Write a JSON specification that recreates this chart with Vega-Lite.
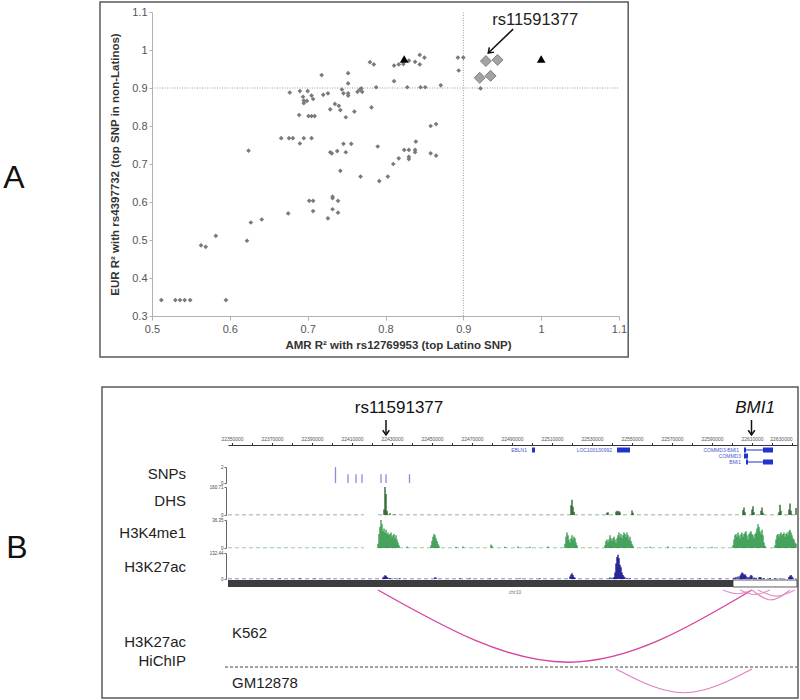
{
"$schema":"https://vega.github.io/schema/vega-lite/v6.json",
"width":800,"height":700,"padding":0,
"autosize":{"type":"fit","contains":"padding"},
"background":"white",
"config":{"view":{"stroke":null},"font":"Liberation Sans"},
"datasets":{
"pts":[{"a":0.512,"e":0.342},{"a":0.530,"e":0.342},{"a":0.536,"e":0.342},{"a":0.542,"e":0.342},{"a":0.549,"e":0.342},{"a":0.595,"e":0.342},{"a":0.563,"e":0.486},{"a":0.569,"e":0.482},{"a":0.582,"e":0.511},{"a":0.622,"e":0.498},{"a":0.627,"e":0.546},{"a":0.641,"e":0.554},{"a":0.675,"e":0.570},{"a":0.702,"e":0.603},{"a":0.707,"e":0.603},{"a":0.707,"e":0.576},{"a":0.732,"e":0.614},{"a":0.732,"e":0.610},{"a":0.739,"e":0.603},{"a":0.732,"e":0.581},{"a":0.739,"e":0.572},{"a":0.726,"e":0.557},{"a":0.624,"e":0.735},{"a":0.666,"e":0.768},{"a":0.676,"e":0.768},{"a":0.681,"e":0.768},{"a":0.690,"e":0.754},{"a":0.695,"e":0.768},{"a":0.705,"e":0.768},{"a":0.729,"e":0.731},{"a":0.731,"e":0.728},{"a":0.738,"e":0.734},{"a":0.746,"e":0.753},{"a":0.756,"e":0.753},{"a":0.749,"e":0.731},{"a":0.742,"e":0.682},{"a":0.768,"e":0.667},{"a":0.790,"e":0.746},{"a":0.792,"e":0.655},{"a":0.803,"e":0.667},{"a":0.810,"e":0.700},{"a":0.817,"e":0.715},{"a":0.824,"e":0.737},{"a":0.830,"e":0.737},{"a":0.830,"e":0.719},{"a":0.830,"e":0.713},{"a":0.838,"e":0.737},{"a":0.838,"e":0.731},{"a":0.839,"e":0.759},{"a":0.858,"e":0.728},{"a":0.865,"e":0.722},{"a":0.858,"e":0.800},{"a":0.865,"e":0.805},
{"a":0.677,"e":0.888},{"a":0.689,"e":0.829},{"a":0.690,"e":0.892},{"a":0.694,"e":0.877},{"a":0.695,"e":0.867},{"a":0.695,"e":0.860},{"a":0.699,"e":0.866},{"a":0.700,"e":0.892},{"a":0.701,"e":0.826},{"a":0.705,"e":0.826},{"a":0.709,"e":0.826},{"a":0.705,"e":0.880},{"a":0.707,"e":0.871},{"a":0.718,"e":0.934},{"a":0.720,"e":0.882},{"a":0.726,"e":0.886},{"a":0.729,"e":0.844},{"a":0.735,"e":0.858},{"a":0.740,"e":0.853},{"a":0.742,"e":0.842},{"a":0.744,"e":0.896},{"a":0.746,"e":0.886},{"a":0.749,"e":0.823},{"a":0.752,"e":0.939},{"a":0.752,"e":0.912},{"a":0.752,"e":0.886},{"a":0.752,"e":0.880},{"a":0.760,"e":0.838},{"a":0.764,"e":0.890},{"a":0.767,"e":0.896},{"a":0.769,"e":0.899},{"a":0.770,"e":0.890},{"a":0.780,"e":0.968},{"a":0.782,"e":0.849},{"a":0.785,"e":0.962},{"a":0.788,"e":0.902},{"a":0.811,"e":0.918},{"a":0.811,"e":0.959},{"a":0.817,"e":0.962},{"a":0.823,"e":0.963},{"a":0.830,"e":0.972},{"a":0.828,"e":0.902},{"a":0.838,"e":0.969},{"a":0.844,"e":0.987},{"a":0.850,"e":0.980},{"a":0.844,"e":0.962},{"a":0.845,"e":0.902},{"a":0.851,"e":0.902},{"a":0.871,"e":0.907},{"a":0.893,"e":0.980},{"a":0.900,"e":0.980},{"a":0.894,"e":0.946},{"a":0.922,"e":0.899},{"a":0.929,"e":0.966}],
"lead":[{"a":0.929,"e":0.971},{"a":0.944,"e":0.974},{"a":0.921,"e":0.927},{"a":0.935,"e":0.932}],
"tri":[{"a":0.824,"e":0.976},{"a":1.0,"e":0.976}],
"snp":[{"p":22401750,"v":2},{"p":22408000,"v":1.1},{"p":22412000,"v":1.1},{"p":22415000,"v":1.1},{"p":22424500,"v":1.1},{"p":22427000,"v":1.1},{"p":22438750,"v":1.1}],
"dhs":[{"p":22426000,"v":32},{"p":22426500,"v":160.7},{"p":22427000,"v":120.5},{"p":22427500,"v":24},{"p":22429000,"v":9.6},{"p":22431500,"v":4.8},{"p":22519500,"v":56},{"p":22520000,"v":88},{"p":22520500,"v":48},{"p":22521000,"v":19},{"p":22537500,"v":13},{"p":22538000,"v":16},{"p":22542000,"v":19},{"p":22542500,"v":24},{"p":22543000,"v":16},{"p":22543500,"v":22.5},{"p":22544000,"v":16},{"p":22550000,"v":26},{"p":22550500,"v":13},{"p":22605500,"v":29},{"p":22606000,"v":43},{"p":22606500,"v":16},{"p":22610000,"v":32},{"p":22610500,"v":50},{"p":22611000,"v":16},{"p":22614500,"v":24},{"p":22615000,"v":43},{"p":22615500,"v":13},{"p":22623500,"v":16},{"p":22624000,"v":59},{"p":22624500,"v":24},{"p":22628500,"v":32},{"p":22629000,"v":66},{"p":22629500,"v":24},{"p":22632000,"v":40}],
"k4":[{"p":22423000,"v":5.5},{"p":22423500,"v":18.2},{"p":22424000,"v":27.3},{"p":22424500,"v":36.35},{"p":22425000,"v":30.9},{"p":22425500,"v":21.8},{"p":22426000,"v":25.4},{"p":22426500,"v":20},{"p":22427000,"v":23.6},{"p":22427500,"v":18.2},{"p":22428000,"v":20},{"p":22428500,"v":16.4},{"p":22429000,"v":18.2},{"p":22429500,"v":20},{"p":22430000,"v":14.5},{"p":22430500,"v":16.4},{"p":22431000,"v":18.2},{"p":22431500,"v":12.7},{"p":22432000,"v":16.4},{"p":22432500,"v":10.9},{"p":22433000,"v":7.3},{"p":22433500,"v":3.6},{"p":22437500,"v":1.8},
{"p":22449500,"v":3.6},{"p":22450000,"v":9.1},{"p":22450500,"v":14.5},{"p":22451000,"v":18.2},{"p":22451500,"v":16.4},{"p":22452000,"v":12.7},{"p":22452500,"v":9.1},{"p":22453000,"v":5.5},{"p":22453500,"v":2.9},
{"p":22462000,"v":1.5},{"p":22465500,"v":1.8},{"p":22479500,"v":4.4},{"p":22480000,"v":2.9},{"p":22486500,"v":1.5},{"p":22493000,"v":1.8},{"p":22499000,"v":1.5},{"p":22508000,"v":1.8},
{"p":22516500,"v":5.5},{"p":22517000,"v":14.5},{"p":22517500,"v":20},{"p":22518000,"v":16.4},{"p":22518500,"v":10.9},{"p":22519000,"v":7.3},{"p":22519500,"v":12.7},{"p":22520000,"v":16.4},{"p":22520500,"v":10.9},{"p":22521000,"v":14.5},{"p":22521500,"v":12.7},{"p":22522000,"v":7.3},{"p":22522500,"v":3.6},
{"p":22536500,"v":3.6},{"p":22537000,"v":9.1},{"p":22537500,"v":10.9},{"p":22538000,"v":7.3},{"p":22538500,"v":10.9},{"p":22539000,"v":16.4},{"p":22539500,"v":12.7},{"p":22540000,"v":9.1},{"p":22540500,"v":12.7},{"p":22541000,"v":14.5},{"p":22541500,"v":10.9},{"p":22542000,"v":7.3},{"p":22542500,"v":12.7},{"p":22543000,"v":16.4},{"p":22543500,"v":20},{"p":22544000,"v":14.5},{"p":22544500,"v":18.2},{"p":22545000,"v":12.7},{"p":22545500,"v":16.4},{"p":22546000,"v":20},{"p":22546500,"v":18.2},{"p":22547000,"v":14.5},{"p":22547500,"v":20},{"p":22548000,"v":16.4},{"p":22548500,"v":10.9},{"p":22549000,"v":14.5},{"p":22549500,"v":9.1},{"p":22550000,"v":5.5},{"p":22550500,"v":2.9},
{"p":22559000,"v":1.5},{"p":22568000,"v":1.8},{"p":22579000,"v":1.5},{"p":22590000,"v":1.5},
{"p":22600500,"v":3.6},{"p":22601000,"v":10.9},{"p":22601500,"v":16.4},{"p":22602000,"v":18.2},{"p":22602500,"v":14.5},{"p":22603000,"v":20},{"p":22603500,"v":16.4},{"p":22604000,"v":12.7},{"p":22604500,"v":18.2},{"p":22605000,"v":20},{"p":22605500,"v":14.5},{"p":22606000,"v":18.2},{"p":22606500,"v":20},{"p":22607000,"v":21.8},{"p":22607500,"v":16.4},{"p":22608000,"v":10.9},{"p":22608500,"v":18.2},{"p":22609000,"v":20},{"p":22609500,"v":21.8},{"p":22610000,"v":18.2},{"p":22610500,"v":16.4},{"p":22611000,"v":12.7},{"p":22611500,"v":18.2},{"p":22612000,"v":20},{"p":22612500,"v":25.4},{"p":22613000,"v":30.9},{"p":22613500,"v":27.3},{"p":22614000,"v":21.8},{"p":22614500,"v":18.2},{"p":22615000,"v":23.6},{"p":22615500,"v":16.4},{"p":22616000,"v":7.3},{"p":22616500,"v":2.9},
{"p":22621500,"v":3.6},{"p":22622000,"v":10.9},{"p":22622500,"v":16.4},{"p":22623000,"v":18.2},{"p":22623500,"v":14.5},{"p":22624000,"v":18.2},{"p":22624500,"v":20},{"p":22625000,"v":16.4},{"p":22625500,"v":18.2},{"p":22626000,"v":20},{"p":22626500,"v":14.5},{"p":22627000,"v":18.2},{"p":22627500,"v":20},{"p":22628000,"v":16.4},{"p":22628500,"v":21.8},{"p":22629000,"v":23.6},{"p":22629500,"v":20},{"p":22630000,"v":16.4},{"p":22630500,"v":12.7},{"p":22631000,"v":10.9},{"p":22631500,"v":7.3},{"p":22632000,"v":5.5}],
"k27":[{"p":22374000,"v":4},{"p":22384000,"v":4},{"p":22391500,"v":2.6},{"p":22399000,"v":2.6},{"p":22425500,"v":8},{"p":22426000,"v":13},{"p":22426500,"v":18.5},{"p":22427000,"v":16},{"p":22427500,"v":10.6},{"p":22428000,"v":6.6},{"p":22429000,"v":5.3},{"p":22431500,"v":4},{"p":22434000,"v":4},{"p":22451500,"v":9.3},{"p":22452000,"v":6.6},{"p":22464000,"v":4},{"p":22469000,"v":4},{"p":22479000,"v":2.6},{"p":22494000,"v":4},{"p":22504000,"v":4},
{"p":22519000,"v":13},{"p":22519500,"v":22.5},{"p":22520000,"v":29},{"p":22520500,"v":20},{"p":22521000,"v":10.6},{"p":22521500,"v":6.6},
{"p":22539000,"v":8},{"p":22540000,"v":6.6},{"p":22541000,"v":10.6},{"p":22541500,"v":33},{"p":22542000,"v":79.5},{"p":22542500,"v":112.6},{"p":22543000,"v":123.2},{"p":22543500,"v":106},{"p":22544000,"v":72.8},{"p":22544500,"v":59.6},{"p":22545000,"v":33},{"p":22545500,"v":20},{"p":22546000,"v":13},{"p":22546500,"v":8},{"p":22547500,"v":5.3},{"p":22549000,"v":4},
{"p":22559000,"v":2.6},{"p":22574000,"v":4},{"p":22584000,"v":2.6},{"p":22594000,"v":2.6},
{"p":22601000,"v":6.6},{"p":22602000,"v":10.6},{"p":22603000,"v":13},{"p":22604000,"v":16},{"p":22604500,"v":24},{"p":22605000,"v":33},{"p":22605500,"v":29},{"p":22606000,"v":20},{"p":22606500,"v":24},{"p":22607000,"v":16},{"p":22608000,"v":10.6},{"p":22609000,"v":13},{"p":22609500,"v":20},{"p":22610000,"v":16},{"p":22611000,"v":8},{"p":22612000,"v":6.6},{"p":22613500,"v":8},{"p":22614000,"v":10.6},{"p":22614500,"v":8},{"p":22616000,"v":5.3},{"p":22619000,"v":5.3},{"p":22621500,"v":4},{"p":22624000,"v":4},{"p":22628500,"v":10.6},{"p":22629000,"v":16},{"p":22629500,"v":20},{"p":22630000,"v":13},{"p":22630500,"v":6.6}],
"noise":[{"t":"dhs","s":22348000,"e":22416000},{"t":"dhs","s":22423000,"e":22632500},{"t":"k4","s":22348000,"e":22416000},{"t":"k4","s":22423000,"e":22632500},{"t":"k27","s":22348000,"e":22632500}],
"arcs":[{"c":"K562","arc":"a1","p":22423000,"d":0},{"c":"K562","arc":"a1","p":22518000,"d":0.95},{"c":"K562","arc":"a1","p":22610000,"d":0},
{"c":"K562","arc":"a2","p":22595500,"d":0},{"c":"K562","arc":"a2","p":22602750,"d":0.05},{"c":"K562","arc":"a2","p":22610000,"d":0},
{"c":"K562","arc":"a3","p":22604000,"d":0},{"c":"K562","arc":"a3","p":22611500,"d":0.06},{"c":"K562","arc":"a3","p":22619000,"d":0},
{"c":"K562","arc":"a4","p":22610000,"d":0},{"c":"K562","arc":"a4","p":22619500,"d":0.13},{"c":"K562","arc":"a4","p":22629000,"d":0},
{"c":"K562","arc":"a5","p":22613000,"d":0},{"c":"K562","arc":"a5","p":22622250,"d":0.08},{"c":"K562","arc":"a5","p":22631500,"d":0},
{"c":"GM12878","arc":"g1","p":22542000,"d":0},{"c":"GM12878","arc":"g1","p":22576000,"d":0.85},{"c":"GM12878","arc":"g1","p":22610000,"d":0}],
"genes":[{"n":"EBLN1","lane":0.5,"s":22500000,"e":22501500,"part":"exon"},{"n":"LOC100130992","lane":0.5,"s":22542500,"e":22549000,"part":"exon"},{"n":"COMMD3-BMI1","lane":0.5,"s":22606000,"e":22607000,"part":"exon"},{"n":"COMMD3-BMI1","lane":0.5,"s":22607000,"e":22615500,"part":"intron"},{"n":"COMMD3-BMI1","lane":0.5,"s":22615500,"e":22620500,"part":"exon"},{"n":"COMMD3","lane":1.5,"s":22606000,"e":22608000,"part":"exon"},{"n":"BMI1","lane":2.5,"s":22607000,"e":22608000,"part":"exon"},{"n":"BMI1","lane":2.5,"s":22608000,"e":22615500,"part":"intron"},{"n":"BMI1","lane":2.5,"s":22615500,"e":22620500,"part":"exon"}],
"gnames":[{"n":"EBLN1","lane":0.5,"s":22500000},{"n":"LOC100130992","lane":0.5,"s":22542500},{"n":"COMMD3-BMI1","lane":0.5,"s":22606000},{"n":"COMMD3","lane":1.5,"s":22607000},{"n":"BMI1","lane":2.5,"s":22607000}],
"annot":[{"lab":"rs11591377","g":22427000},{"lab":"BMI1","g":22609750}]
},
"layer":[
 {"data":{"values":[{}]},"mark":{"type":"rect","filled":false,"stroke":"#5a5a5a","strokeWidth":1.5},
  "encoding":{"x":{"datum":0.43316,"type":"quantitative","scale":{"domain":[0.5,1.1],"range":[152,619],"nice":false,"zero":false},"axis":null},"x2":{"datum":1.11183},"y":{"datum":1.12632,"type":"quantitative","scale":{"domain":[0.3,1.1],"range":[316,12],"nice":false,"zero":false},"axis":null},"y2":{"datum":0.19211}}},
 {"data":{"values":[{}]},"mark":{"type":"rule","color":"#9a9a9a","strokeDash":[1,1.5],"strokeWidth":1},
  "encoding":{"x":{"datum":0.9,"type":"quantitative","scale":{"domain":[0.5,1.1],"range":[152,619],"nice":false,"zero":false},"axis":null},"y":{"datum":0.3,"type":"quantitative","scale":{"domain":[0.3,1.1],"range":[316,12],"nice":false,"zero":false},"axis":null},"y2":{"datum":1.1}}},
 {"data":{"values":[{}]},"mark":{"type":"rule","color":"#9a9a9a","strokeDash":[1,1.5],"strokeWidth":1},
  "encoding":{"x":{"datum":0.5,"type":"quantitative","scale":{"domain":[0.5,1.1],"range":[152,619],"nice":false,"zero":false},"axis":null},"x2":{"datum":1.1},"y":{"datum":0.9,"type":"quantitative","scale":{"domain":[0.3,1.1],"range":[316,12],"nice":false,"zero":false},"axis":null}}},
 {"data":{"name":"pts"},"mark":{"type":"point","shape":"diamond","filled":true,"size":22,"color":"#7a7a7a","opacity":1},
  "encoding":{"x":{"field":"a","type":"quantitative","scale":{"domain":[0.5,1.1],"range":[152,619],"nice":false,"zero":false},
    "axis":{"title":"AMR R² with rs12769953 (top Latino SNP)","orient":"bottom","offset":-384,"values":[0.5,0.6,0.7,0.8,0.9,1,1.1],"format":"~g","grid":false,"domainColor":"#b0b0b0","tickColor":"#b0b0b0","tickSize":4,"labelFontSize":11,"labelColor":"#555","labelPadding":3,"labelFlush":false,"labelOverlap":false,"labelFont":"Liberation Sans","titleFont":"Liberation Sans","titleFontSize":11.5,"titleFontWeight":"bold","titleColor":"#333","titlePadding":5,"titleX":398}},
   "y":{"field":"e","type":"quantitative","scale":{"domain":[0.3,1.1],"range":[316,12],"nice":false,"zero":false},
    "axis":{"title":"EUR R² with rs4397732 (top SNP in non-Latinos)","orient":"left","offset":-152,"values":[0.3,0.4,0.5,0.6,0.7,0.8,0.9,1,1.1],"format":"~g","grid":false,"domainColor":"#b0b0b0","tickColor":"#b0b0b0","tickSize":3,"labelFontSize":11,"labelColor":"#555","labelPadding":2,"labelFlush":false,"labelOverlap":false,"labelFont":"Liberation Sans","titleFont":"Liberation Sans","titleFontSize":11.5,"titleFontWeight":"bold","titleColor":"#333","titlePadding":11}}}},
 {"data":{"name":"lead"},"mark":{"type":"point","shape":"diamond","filled":true,"size":120,"fill":"#a3a3a3","stroke":"#7f7f7f","strokeWidth":1,"opacity":1},
  "encoding":{"x":{"field":"a","type":"quantitative","scale":{"domain":[0.5,1.1],"range":[152,619],"nice":false,"zero":false},"axis":null},"y":{"field":"e","type":"quantitative","scale":{"domain":[0.3,1.1],"range":[316,12],"nice":false,"zero":false},"axis":null}}},
 {"data":{"name":"tri"},"mark":{"type":"point","shape":"triangle-up","filled":true,"size":75,"color":"#000","opacity":1},
  "encoding":{"x":{"field":"a","type":"quantitative","scale":{"domain":[0.5,1.1],"range":[152,619],"nice":false,"zero":false},"axis":null},"y":{"field":"e","type":"quantitative","scale":{"domain":[0.3,1.1],"range":[316,12],"nice":false,"zero":false},"axis":null}}},
 {"data":{"values":[{}]},"mark":{"type":"text","text":"rs11591377","fontSize":16.5,"font":"Liberation Sans","color":"#222","align":"center","baseline":"middle"},
  "encoding":{"x":{"datum":0.9923,"type":"quantitative","scale":{"domain":[0.5,1.1],"range":[152,619],"nice":false,"zero":false},"axis":null},"y":{"datum":1.079,"type":"quantitative","scale":{"domain":[0.3,1.1],"range":[316,12],"nice":false,"zero":false},"axis":null}}},
 {"data":{"values":[{}]},"mark":{"type":"rule","color":"#111","strokeWidth":1.5},
  "encoding":{"x":{"datum":0.964,"type":"quantitative","scale":{"domain":[0.5,1.1],"range":[152,619],"nice":false,"zero":false},"axis":null},"x2":{"datum":0.932},"y":{"datum":1.055,"type":"quantitative","scale":{"domain":[0.3,1.1],"range":[316,12],"nice":false,"zero":false},"axis":null},"y2":{"datum":0.992}}},
 {"data":{"values":[{}]},"mark":{"type":"point","shape":"M-0.7,-1L0,0L0.7,-1","filled":false,"size":90,"stroke":"#111","strokeWidth":1.5,"angle":46,"opacity":1},
  "encoding":{"x":{"datum":0.932,"type":"quantitative","scale":{"domain":[0.5,1.1],"range":[152,619],"nice":false,"zero":false},"axis":null},"y":{"datum":0.992,"type":"quantitative","scale":{"domain":[0.3,1.1],"range":[316,12],"nice":false,"zero":false},"axis":null}}},
 {"data":{"values":[{}]},"mark":{"type":"text","text":"A","fontSize":32,"font":"Liberation Sans","color":"#111","align":"center","baseline":"middle"},
  "encoding":{"x":{"datum":0.3226,"type":"quantitative","scale":{"domain":[0.5,1.1],"range":[152,619],"nice":false,"zero":false},"axis":null},"y":{"datum":0.663,"type":"quantitative","scale":{"domain":[0.3,1.1],"range":[316,12],"nice":false,"zero":false},"axis":null}}},

 {"data":{"values":[{}]},"mark":{"type":"rect","filled":false,"stroke":"#5a5a5a","strokeWidth":1.5},
  "encoding":{"x":{"datum":22285000,"type":"quantitative","scale":{"domain":[22348000,22632500],"range":[228,797],"nice":false,"zero":false},"axis":null},"x2":{"datum":22633000},"y":{"datum":-10,"type":"quantitative","scale":{"domain":[0,3],"range":[447,465],"nice":false,"zero":false},"axis":null},"y2":{"datum":41.83}}},
 {"data":{"values":[{}]},"mark":{"type":"text","text":"B","fontSize":32,"font":"Liberation Sans","color":"#111","align":"center","baseline":"middle"},
  "encoding":{"x":{"datum":22242500,"type":"quantitative","scale":{"domain":[22348000,22632500],"range":[228,797],"nice":false,"zero":false},"axis":null},"y":{"datum":16.83,"type":"quantitative","scale":{"domain":[0,3],"range":[447,465],"nice":false,"zero":false},"axis":null}}},
 {"data":{"name":"genes"},"transform":[{"filter":"datum.part == 'exon'"}],"mark":{"type":"rule","color":"#2233cc","strokeWidth":5,"strokeCap":"butt"},
  "encoding":{"x":{"field":"s","type":"quantitative","scale":{"domain":[22348000,22632500],"range":[228,797],"nice":false,"zero":false},
    "axis":{"orient":"top","offset":-445,"title":null,"values":[22350000,22360000,22370000,22380000,22390000,22400000,22410000,22420000,22430000,22440000,22450000,22460000,22470000,22480000,22490000,22500000,22510000,22520000,22530000,22540000,22550000,22560000,22570000,22580000,22590000,22600000,22610000,22620000,22630000],"format":"d","labelExpr":"(datum.value/10000)%2==1 ? datum.label : ''","labelAlign":{"condition":{"test":"datum.value >= 22630000","value":"right"},"value":"center"},"labelFontSize":5,"labelColor":"#555","labelPadding":1,"tickSize":2.5,"tickColor":"#333","domainColor":"#333","grid":false,"labelFlush":false,"labelOverlap":false,"labelBound":false,"labelFont":"Liberation Sans"}},
   "x2":{"field":"e"},"y":{"field":"lane","type":"quantitative","scale":{"domain":[0,3],"range":[447,465],"nice":false,"zero":false},"axis":null}}},
 {"data":{"name":"genes"},"transform":[{"filter":"datum.part == 'intron'"}],"mark":{"type":"rule","color":"#2233cc","strokeWidth":1},
  "encoding":{"x":{"field":"s","type":"quantitative","scale":{"domain":[22348000,22632500],"range":[228,797],"nice":false,"zero":false},"axis":null},"x2":{"field":"e"},"y":{"field":"lane","type":"quantitative","scale":{"domain":[0,3],"range":[447,465],"nice":false,"zero":false},"axis":null}}},
 {"data":{"name":"gnames"},"mark":{"type":"text","fontSize":5,"font":"Liberation Sans","color":"#4a58cc","align":"right","baseline":"middle","dx":-5},
  "encoding":{"text":{"field":"n"},"x":{"field":"s","type":"quantitative","scale":{"domain":[22348000,22632500],"range":[228,797],"nice":false,"zero":false},"axis":null},"y":{"field":"lane","type":"quantitative","scale":{"domain":[0,3],"range":[447,465],"nice":false,"zero":false},"axis":null}}},
 {"data":{"values":[{}]},"mark":{"type":"text","text":"rs11591377","fontSize":17,"font":"Liberation Sans","color":"#111","align":"center","baseline":"middle"},
  "encoding":{"x":{"datum":22433500,"type":"quantitative","scale":{"domain":[22348000,22632500],"range":[228,797],"nice":false,"zero":false},"axis":null},"y":{"datum":-6.5,"type":"quantitative","scale":{"domain":[0,3],"range":[447,465],"nice":false,"zero":false},"axis":null}}},
 {"data":{"values":[{}]},"mark":{"type":"text","text":"BMI1","fontSize":17,"fontStyle":"italic","font":"Liberation Sans","color":"#111","align":"center","baseline":"middle"},
  "encoding":{"x":{"datum":22611500,"type":"quantitative","scale":{"domain":[22348000,22632500],"range":[228,797],"nice":false,"zero":false},"axis":null},"y":{"datum":-6.5,"type":"quantitative","scale":{"domain":[0,3],"range":[447,465],"nice":false,"zero":false},"axis":null}}},
 {"data":{"name":"annot"},"mark":{"type":"rule","color":"#111","strokeWidth":1.5},
  "encoding":{"x":{"field":"g","type":"quantitative","scale":{"domain":[22348000,22632500],"range":[228,797],"nice":false,"zero":false},"axis":null},"y":{"datum":-4.5,"type":"quantitative","scale":{"domain":[0,3],"range":[447,465],"nice":false,"zero":false},"axis":null},"y2":{"datum":-2}}},
 {"data":{"name":"annot"},"mark":{"type":"point","shape":"M-0.7,-1L0,0L0.7,-1","filled":false,"size":90,"stroke":"#111","strokeWidth":1.5,"opacity":1},
  "encoding":{"x":{"field":"g","type":"quantitative","scale":{"domain":[22348000,22632500],"range":[228,797],"nice":false,"zero":false},"axis":null},"y":{"datum":-2,"type":"quantitative","scale":{"domain":[0,3],"range":[447,465],"nice":false,"zero":false},"axis":null}}},
 {"data":{"values":[{}]},"mark":{"type":"text","text":"SNPs","fontSize":15,"font":"Liberation Sans","color":"#222","align":"right","baseline":"middle"},
  "encoding":{"x":{"datum":22327000,"type":"quantitative","scale":{"domain":[22348000,22632500],"range":[228,797],"nice":false,"zero":false},"axis":null},"y":{"datum":4.5,"type":"quantitative","scale":{"domain":[0,3],"range":[447,465],"nice":false,"zero":false},"axis":null}}},
 {"data":{"values":[{}]},"mark":{"type":"text","text":"DHS","fontSize":15,"font":"Liberation Sans","color":"#222","align":"right","baseline":"middle"},
  "encoding":{"x":{"datum":22327000,"type":"quantitative","scale":{"domain":[22348000,22632500],"range":[228,797],"nice":false,"zero":false},"axis":null},"y":{"datum":9,"type":"quantitative","scale":{"domain":[0,3],"range":[447,465],"nice":false,"zero":false},"axis":null}}},
 {"data":{"values":[{}]},"mark":{"type":"text","text":"H3K4me1","fontSize":15,"font":"Liberation Sans","color":"#222","align":"right","baseline":"middle"},
  "encoding":{"x":{"datum":22327000,"type":"quantitative","scale":{"domain":[22348000,22632500],"range":[228,797],"nice":false,"zero":false},"axis":null},"y":{"datum":14.33,"type":"quantitative","scale":{"domain":[0,3],"range":[447,465],"nice":false,"zero":false},"axis":null}}},
 {"data":{"values":[{}]},"mark":{"type":"text","text":"H3K27ac","fontSize":15,"font":"Liberation Sans","color":"#222","align":"right","baseline":"middle"},
  "encoding":{"x":{"datum":22327000,"type":"quantitative","scale":{"domain":[22348000,22632500],"range":[228,797],"nice":false,"zero":false},"axis":null},"y":{"datum":20,"type":"quantitative","scale":{"domain":[0,3],"range":[447,465],"nice":false,"zero":false},"axis":null}}},
 {"data":{"values":[{}]},"mark":{"type":"text","text":["H3K27ac","HiChIP"],"lineHeight":19,"fontSize":15,"font":"Liberation Sans","color":"#222","align":"right","baseline":"middle"},
  "encoding":{"x":{"datum":22327000,"type":"quantitative","scale":{"domain":[22348000,22632500],"range":[228,797],"nice":false,"zero":false},"axis":null},"y":{"datum":32.5,"type":"quantitative","scale":{"domain":[0,3],"range":[447,465],"nice":false,"zero":false},"axis":null}}},
 {"data":{"values":[{}]},"mark":{"type":"text","text":"K562","fontSize":15,"font":"Liberation Sans","color":"#222","align":"left","baseline":"middle"},
  "encoding":{"x":{"datum":22350000,"type":"quantitative","scale":{"domain":[22348000,22632500],"range":[228,797],"nice":false,"zero":false},"axis":null},"y":{"datum":31,"type":"quantitative","scale":{"domain":[0,3],"range":[447,465],"nice":false,"zero":false},"axis":null}}},
 {"data":{"values":[{}]},"mark":{"type":"text","text":"GM12878","fontSize":15,"font":"Liberation Sans","color":"#222","align":"left","baseline":"middle"},
  "encoding":{"x":{"datum":22350000,"type":"quantitative","scale":{"domain":[22348000,22632500],"range":[228,797],"nice":false,"zero":false},"axis":null},"y":{"datum":39.33,"type":"quantitative","scale":{"domain":[0,3],"range":[447,465],"nice":false,"zero":false},"axis":null}}},
 {"data":{"values":[{}]},"mark":{"type":"rect","fill":"#3d3d3d"},
  "encoding":{"x":{"datum":22348000,"type":"quantitative","scale":{"domain":[22348000,22632500],"range":[228,797],"nice":false,"zero":false},"axis":null},"x2":{"datum":22600500},"y":{"datum":22.17,"type":"quantitative","scale":{"domain":[0,3],"range":[447,465],"nice":false,"zero":false},"axis":null},"y2":{"datum":23.33}}},
 {"data":{"values":[{}]},"mark":{"type":"rect","fill":"white","stroke":"#333","strokeWidth":0.8},
  "encoding":{"x":{"datum":22600500,"type":"quantitative","scale":{"domain":[22348000,22632500],"range":[228,797],"nice":false,"zero":false},"axis":null},"x2":{"datum":22632500},"y":{"datum":22.17,"type":"quantitative","scale":{"domain":[0,3],"range":[447,465],"nice":false,"zero":false},"axis":null},"y2":{"datum":23.33}}},
 {"data":{"values":[{}]},"mark":{"type":"text","text":"chr10","fontSize":5,"font":"Liberation Sans","color":"#777","align":"center","baseline":"middle"},
  "encoding":{"x":{"datum":22491500,"type":"quantitative","scale":{"domain":[22348000,22632500],"range":[228,797],"nice":false,"zero":false},"axis":null},"y":{"datum":24.2,"type":"quantitative","scale":{"domain":[0,3],"range":[447,465],"nice":false,"zero":false},"axis":null}}},
 {"data":{"values":[{}]},"mark":{"type":"rule","color":"#444","strokeWidth":1,"strokeDash":[3,2]},
  "encoding":{"x":{"datum":22346500,"type":"quantitative","scale":{"domain":[22348000,22632500],"range":[228,797],"nice":false,"zero":false},"axis":null},"x2":{"datum":22632500},"y":{"datum":36.67,"type":"quantitative","scale":{"domain":[0,3],"range":[447,465],"nice":false,"zero":false},"axis":null}}},

 {"data":{"name":"snp"},"mark":{"type":"rule","color":"#8a8ae0","strokeWidth":1.3,"strokeCap":"butt"},
  "encoding":{"x":{"field":"p","type":"quantitative","scale":{"domain":[22348000,22632500],"range":[228,797],"nice":false,"zero":false},"axis":null},
   "y":{"field":"v","type":"quantitative","scale":{"domain":[0,2],"range":[483,467],"nice":false,"zero":false},"axis":{"orient":"left","offset":-226,"values":[0,2],"format":".2~f","title":null,"grid":false,"labelFontSize":4.5,"labelColor":"#444","tickSize":2,"tickColor":"#666","domainColor":"#666","labelPadding":1,"labelFlush":false,"labelOverlap":false,"labelFont":"Liberation Sans"}},
   "y2":{"datum":0}}},
 {"data":{"name":"noise"},"transform":[{"filter":"datum.t == 'dhs'"}],"mark":{"type":"rule","color":"#6f946f","strokeWidth":0.7,"strokeDash":[4,3]},
  "encoding":{"x":{"field":"s","type":"quantitative","scale":{"domain":[22348000,22632500],"range":[228,797],"nice":false,"zero":false},"axis":null},"x2":{"field":"e"},"y":{"datum":1,"type":"quantitative","scale":{"domain":[0,160.71],"range":[515,487],"nice":false,"zero":false},"axis":null}}},
 {"data":{"name":"dhs"},"mark":{"type":"rule","color":"#1d5c1f","strokeWidth":1.3,"strokeCap":"butt"},
  "encoding":{"x":{"field":"p","type":"quantitative","scale":{"domain":[22348000,22632500],"range":[228,797],"nice":false,"zero":false},"axis":null},
   "y":{"field":"v","type":"quantitative","scale":{"domain":[0,160.71],"range":[515,487],"nice":false,"zero":false},"axis":{"orient":"left","offset":-226,"values":[0,160.71],"format":".2~f","title":null,"grid":false,"labelFontSize":4.5,"labelColor":"#444","tickSize":2,"tickColor":"#666","domainColor":"#666","labelPadding":1,"labelFlush":false,"labelOverlap":false,"labelFont":"Liberation Sans"}},
   "y2":{"datum":0}}},
 {"data":{"name":"noise"},"transform":[{"filter":"datum.t == 'k4'"}],"mark":{"type":"rule","color":"#6fb07f","strokeWidth":0.7,"strokeDash":[4,3]},
  "encoding":{"x":{"field":"s","type":"quantitative","scale":{"domain":[22348000,22632500],"range":[228,797],"nice":false,"zero":false},"axis":null},"x2":{"field":"e"},"y":{"datum":0.3,"type":"quantitative","scale":{"domain":[0,36.35],"range":[548,520],"nice":false,"zero":false},"axis":null}}},
 {"data":{"name":"k4"},"mark":{"type":"rule","color":"#2e9648","strokeWidth":1.3,"strokeCap":"butt"},
  "encoding":{"x":{"field":"p","type":"quantitative","scale":{"domain":[22348000,22632500],"range":[228,797],"nice":false,"zero":false},"axis":null},
   "y":{"field":"v","type":"quantitative","scale":{"domain":[0,36.35],"range":[548,520],"nice":false,"zero":false},"axis":{"orient":"left","offset":-226,"values":[0,36.35],"format":".2~f","title":null,"grid":false,"labelFontSize":4.5,"labelColor":"#444","tickSize":2,"tickColor":"#666","domainColor":"#666","labelPadding":1,"labelFlush":false,"labelOverlap":false,"labelFont":"Liberation Sans"}},
   "y2":{"datum":0}}},
 {"data":{"name":"noise"},"transform":[{"filter":"datum.t == 'k27'"}],"mark":{"type":"rule","color":"#5a5ab0","strokeWidth":0.7,"strokeDash":[4,3]},
  "encoding":{"x":{"field":"s","type":"quantitative","scale":{"domain":[22348000,22632500],"range":[228,797],"nice":false,"zero":false},"axis":null},"x2":{"field":"e"},"y":{"datum":1,"type":"quantitative","scale":{"domain":[0,132.44],"range":[579,553],"nice":false,"zero":false},"axis":null}}},
 {"data":{"name":"k27"},"mark":{"type":"rule","color":"#0a0a8a","strokeWidth":1.3,"strokeCap":"butt"},
  "encoding":{"x":{"field":"p","type":"quantitative","scale":{"domain":[22348000,22632500],"range":[228,797],"nice":false,"zero":false},"axis":null},
   "y":{"field":"v","type":"quantitative","scale":{"domain":[0,132.44],"range":[579,553],"nice":false,"zero":false},"axis":{"orient":"left","offset":-226,"values":[0,132.44],"format":".2~f","title":null,"grid":false,"labelFontSize":4.5,"labelColor":"#444","tickSize":2,"tickColor":"#666","domainColor":"#666","labelPadding":1,"labelFlush":false,"labelOverlap":false,"labelFont":"Liberation Sans"}},
   "y2":{"datum":0}}},
 {"data":{"name":"arcs"},"transform":[{"filter":"datum.arc == 'a1'"}],"mark":{"type":"line","interpolate":"natural","color":"#d6459f","strokeWidth":1.4},
  "encoding":{"x":{"field":"p","type":"quantitative","scale":{"domain":[22348000,22632500],"range":[228,797],"nice":false,"zero":false},"axis":null},"y":{"field":"d","type":"quantitative","scale":{"domain":[0,1],"range":[590,666],"nice":false,"zero":false},"axis":null},"detail":{"field":"arc"}}},
 {"data":{"name":"arcs"},"transform":[{"filter":"datum.c == 'K562' && datum.arc != 'a1'"}],"mark":{"type":"line","interpolate":"natural","color":"#e48cc6","strokeWidth":1.1},
  "encoding":{"x":{"field":"p","type":"quantitative","scale":{"domain":[22348000,22632500],"range":[228,797],"nice":false,"zero":false},"axis":null},"y":{"field":"d","type":"quantitative","scale":{"domain":[0,1],"range":[590,666],"nice":false,"zero":false},"axis":null},"detail":{"field":"arc"}}},
 {"data":{"name":"arcs"},"transform":[{"filter":"datum.c == 'GM12878'"}],"mark":{"type":"line","interpolate":"natural","color":"#e07ebf","strokeWidth":1.1},
  "encoding":{"x":{"field":"p","type":"quantitative","scale":{"domain":[22348000,22632500],"range":[228,797],"nice":false,"zero":false},"axis":null},"y":{"field":"d","type":"quantitative","scale":{"domain":[0,1],"range":[669,697],"nice":false,"zero":false},"axis":null},"detail":{"field":"arc"}}}
],
"resolve":{"scale":{"x":"independent","y":"independent"},"axis":{"x":"independent","y":"independent"}}
}
